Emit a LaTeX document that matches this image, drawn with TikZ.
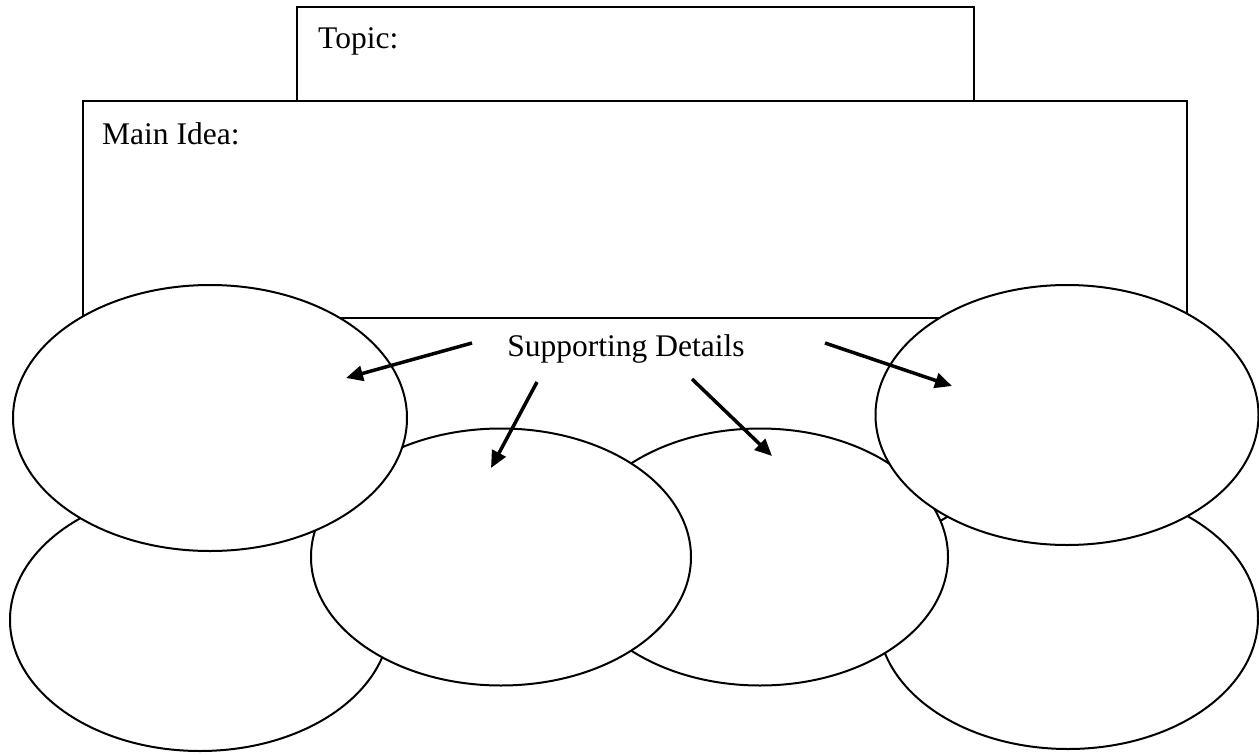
\documentclass[tikz,border=0pt]{standalone}
\usepackage{fontspec}
\setmainfont{Liberation Serif}
\usetikzlibrary{shapes.geometric,arrows.meta}
\begin{document}
\begin{tikzpicture}[x=1pt,y=-1pt,
  frame/.style={draw,line width=2pt,fill=white},
  bubble/.style={ellipse,draw,line width=2pt,fill=white,inner sep=0pt,outer sep=0pt},
  lbl/.style={font=\fontsize{31.5}{36}\selectfont,inner sep=0pt,anchor=base west},
  pointer/.style={line width=3.5pt,-{Triangle[length=17pt,width=15pt]}}]
\useasboundingbox (0,0) rectangle (1259,755);
% boxes
\draw[frame] (297,7) rectangle (974,101);
\node[lbl] (topic) at (318,48) {Topic:};
\draw[frame] (83,101) rectangle (1187,318);
\node[lbl] (main) at (102,144) {Main Idea:};
% ellipses (back to front)
\node[bubble,minimum width=380pt,minimum height=262pt] (bl) at (200,620) {};
\node[bubble,minimum width=380pt,minimum height=262pt] (br) at (1068,618) {};
\node[bubble,minimum width=376pt,minimum height=257pt] (mr) at (760,557) {};
\node[bubble,minimum width=380pt,minimum height=257pt] (ml) at (501,557) {};
\node[bubble,minimum width=394pt,minimum height=266pt] (tl) at (210,418) {};
\node[bubble,minimum width=383pt,minimum height=260pt] (tr) at (1067,415) {};
% label and arrows
\node[lbl,anchor=base] (sd) at (626,356) {Supporting Details};
\coordinate (s1) at (472,343); \coordinate (e1) at (346,378);
\coordinate (s2) at (537,382); \coordinate (e2) at (491,468);
\coordinate (s3) at (692,379); \coordinate (e3) at (772,456);
\coordinate (s4) at (825,343); \coordinate (e4) at (952,386);
\draw[pointer] (s1) -- (e1);
\draw[pointer] (s2) -- (e2);
\draw[pointer] (s3) -- (e3);
\draw[pointer] (s4) -- (e4);
\end{tikzpicture}
\end{document}
